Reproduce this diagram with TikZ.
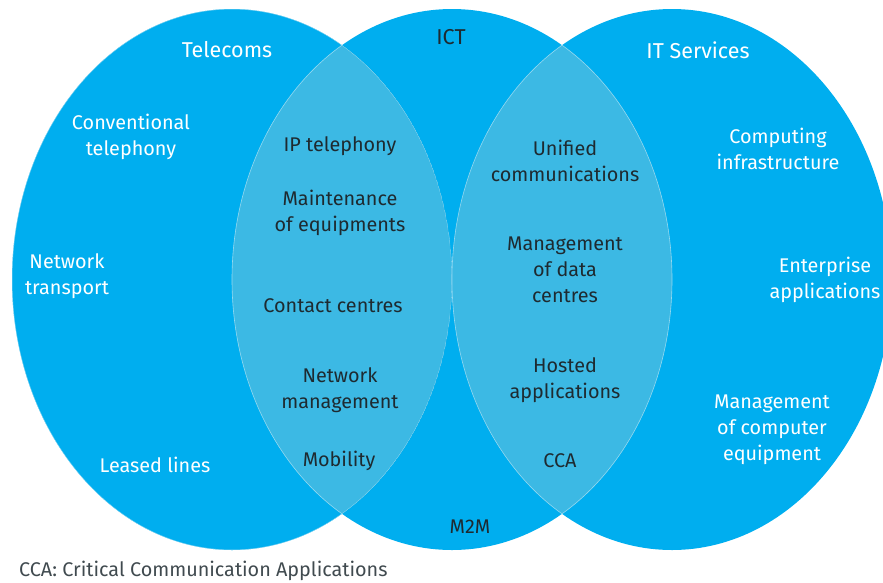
\documentclass[tikz,border=0pt]{standalone}
\usepackage{fontspec}
\setmainfont{Fira Sans}
\usepackage{tikz}
\usetikzlibrary{positioning}
\definecolor{mainblue}{RGB}{0, 174, 239}
\definecolor{lensblue}{RGB}{60, 185, 228}
\definecolor{darktext}{RGB}{30, 42, 48}

\begin{document}
\begin{tikzpicture}[x=1pt, y=-1pt, every node/.style={font=\fontsize{19.8}{26}\selectfont, align=center, inner sep=0pt},
    outer/.style={text=white}, inner/.style={text=darktext}, title/.style={font=\fontsize{21.5}{26}\selectfont}]
  \useasboundingbox (0,0) rectangle (883,582);
  \clip (0,0) rectangle (883,582);

  % the three sets
  \fill[mainblue] (232,279.5) ellipse [x radius=220, y radius=270.5];
  \fill[mainblue] (452,279.5) ellipse [x radius=220, y radius=270.5];
  \fill[mainblue] (672,279.5) ellipse [x radius=220, y radius=270.5];

  % overlaps
  \begin{scope}
    \clip (232,279.5) ellipse [x radius=220, y radius=270.5];
    \fill[lensblue, draw=white!45!lensblue, line width=0.6pt] (452,279.5) ellipse [x radius=220, y radius=270.5];
  \end{scope}
  \begin{scope}
    \clip (232,279.5) ellipse [x radius=220, y radius=270.5];
    \draw[white!45!lensblue, line width=0.6pt] (232,279.5) ellipse [x radius=220, y radius=270.5];
  \end{scope}
  \begin{scope}
    \clip (672,279.5) ellipse [x radius=220, y radius=270.5];
    \fill[lensblue, draw=white!45!lensblue, line width=0.6pt] (452,279.5) ellipse [x radius=220, y radius=270.5];
  \end{scope}
  \begin{scope}
    \clip (452,279.5) ellipse [x radius=220, y radius=270.5];
    \draw[white!45!lensblue, line width=0.6pt] (672,279.5) ellipse [x radius=220, y radius=270.5];
  \end{scope}

  % set titles
  \node[outer, title] (telecoms) at (227,50) {Telecoms};
  \node[inner, title] (ict) at (451,37) {ICT};
  \node[outer, title] (itserv) at (698,50) {IT Services};

  % telecoms only
  \node[outer] (tel1) at (131,137) {Conventional\\telephony};
  \node[outer] (tel2) at (67,276) {Network\\transport};
  \node[outer] (tel3) at (155,465) {Leased lines};

  % telecoms and ICT
  \node[inner] (lens1) at (340,146) {IP telephony};
  \node[inner] (lens2) at (340,213) {Maintenance\\of equipments};
  \node[inner] (lens3) at (333,306) {Contact centres};
  \node[inner] (lens4) at (340,390) {Network\\management};
  \node[inner] (lens5) at (339,461) {Mobility};

  % ICT only
  \node[inner] (m2m) at (470,527) {M2M};

  % ICT and IT services
  \node[inner] (lens6) at (565,161) {Unified\\communications};
  \node[inner] (lens7) at (565,270) {Management\\of data\\centres};
  \node[inner] (lens8) at (565,380) {Hosted\\applications};
  \node[inner] (lens9) at (560,461) {CCA};

  % IT services only
  \node[outer] (its1) at (778,149) {Computing\\infrastructure};
  \node[outer] (its2) at (825,280) {Enterprise\\applications};
  \node[outer] (its3) at (772,430) {Management\\of computer\\equipment};

  \node[inner, anchor=west, text=darktext!85] (note) at (19,571) {CCA: Critical Communication Applications};
\end{tikzpicture}
\end{document}
